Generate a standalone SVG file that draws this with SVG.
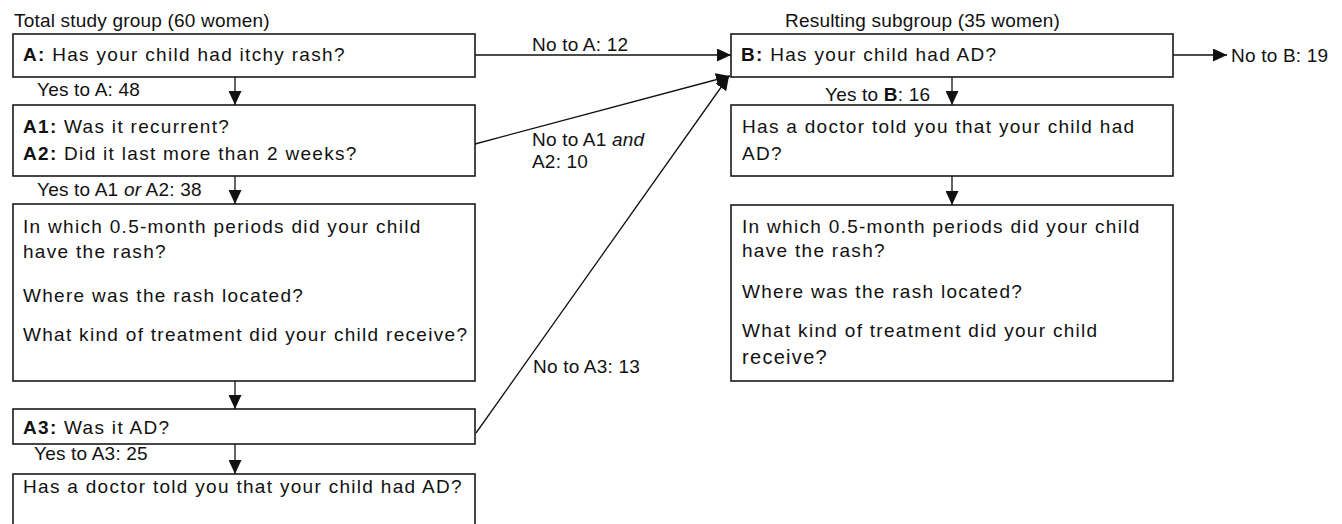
<svg xmlns="http://www.w3.org/2000/svg" width="1342" height="524" viewBox="0 0 1342 524">
<defs>
<style>
.box{fill:#fff;stroke:#1a1a1a;stroke-width:1.6}
.bt{font-family:"Liberation Sans",Arial,sans-serif;font-size:19px;letter-spacing:1.3px;fill:#111}
.lb{font-family:"Liberation Sans",Arial,sans-serif;font-size:19px;letter-spacing:0.2px;fill:#111}
.b{font-weight:bold}
.i{font-style:italic}
.ln{fill:none;stroke:#111;stroke-width:1.3}
</style>
<marker id="ah" markerWidth="14" markerHeight="13" refX="14" refY="6.5" orient="auto" markerUnits="userSpaceOnUse">
<path d="M0,0 L14,6.5 L0,13 Z" fill="#111"/>
</marker>
</defs>
<rect width="1342" height="524" fill="#fff"/>

<g id="connectors">
<line class="ln" x1="235" y1="77" x2="235" y2="105" marker-end="url(#ah)"/>
<line class="ln" x1="235" y1="176" x2="235" y2="204" marker-end="url(#ah)"/>
<line class="ln" x1="235" y1="381" x2="235" y2="409" marker-end="url(#ah)"/>
<line class="ln" x1="235" y1="444" x2="235" y2="474" marker-end="url(#ah)"/>
<line class="ln" x1="952" y1="77" x2="952" y2="105" marker-end="url(#ah)"/>
<line class="ln" x1="952" y1="176" x2="952" y2="205" marker-end="url(#ah)"/>
<line class="ln" x1="475" y1="55" x2="731" y2="55" marker-end="url(#ah)"/>
<line class="ln" x1="475" y1="144" x2="730" y2="76" marker-end="url(#ah)"/>
<line class="ln" x1="476" y1="433" x2="729" y2="76" marker-end="url(#ah)"/>
<line class="ln" x1="1173" y1="55" x2="1227" y2="55" marker-end="url(#ah)"/>
</g>

<g id="labels">
<text class="lb" x="14" y="27">Total study group (60 women)</text>
<text class="lb" x="785" y="27">Resulting subgroup (35 women)</text>
<text class="lb" x="37" y="96">Yes to A: 48</text>
<text class="lb" x="37" y="196">Yes to A1 <tspan class="i">or</tspan> A2: 38</text>
<text class="lb" x="34" y="460">Yes to A3: 25</text>
<text class="lb" x="532" y="51">No to A: 12</text>
<text class="lb" x="532" y="146">No to A1 <tspan class="i">and</tspan></text>
<text class="lb" x="532" y="168">A2: 10</text>
<text class="lb" x="533" y="373">No to A3: 13</text>
<text class="lb" x="825" y="101">Yes to <tspan class="b">B</tspan>: 16</text>
<text class="lb" x="1231" y="62">No to B: 19</text>
</g>

<g id="nodeA">
<rect class="box" x="13" y="34" width="462" height="43"/>
<text class="bt" x="23" y="61"><tspan class="b">A:</tspan> Has your child had itchy rash?</text>
</g>

<g id="nodeA1A2">
<rect class="box" x="13" y="105" width="462" height="71"/>
<text class="bt" x="23" y="133"><tspan class="b">A1:</tspan> Was it recurrent?</text>
<text class="bt" x="23" y="160"><tspan class="b">A2:</tspan> Did it last more than 2 weeks?</text>
</g>

<g id="nodeDetailsLeft">
<rect class="box" x="13" y="204" width="462" height="177"/>
<text class="bt" x="23" y="233">In which 0.5-month periods did your child</text>
<text class="bt" x="23" y="258">have the rash?</text>
<text class="bt" x="23" y="302">Where was the rash located?</text>
<text class="bt" x="23" y="341">What kind of treatment did your child receive?</text>
</g>

<g id="nodeA3">
<rect class="box" x="13" y="409" width="462" height="35"/>
<text class="bt" x="23" y="434"><tspan class="b">A3:</tspan> Was it AD?</text>
</g>

<g id="nodeDoctorLeft">
<rect class="box" x="13" y="474" width="462" height="52"/>
<text class="bt" x="23" y="493">Has a doctor told you that your child had AD?</text>
</g>

<g id="nodeB">
<rect class="box" x="731" y="34" width="442" height="43"/>
<text class="bt" x="741" y="61"><tspan class="b">B:</tspan> Has your child had AD?</text>
</g>

<g id="nodeDoctorRight">
<rect class="box" x="731" y="105" width="442" height="71"/>
<text class="bt" x="742" y="133">Has a doctor told you that your child had</text>
<text class="bt" x="742" y="160">AD?</text>
</g>

<g id="nodeDetailsRight">
<rect class="box" x="731" y="205" width="442" height="176"/>
<text class="bt" x="742" y="233">In which 0.5-month periods did your child</text>
<text class="bt" x="742" y="257">have the rash?</text>
<text class="bt" x="742" y="298">Where was the rash located?</text>
<text class="bt" x="742" y="337">What kind of treatment did your child</text>
<text class="bt" x="742" y="364" style="font-size:20px">receive?</text>
</g>
</svg>
